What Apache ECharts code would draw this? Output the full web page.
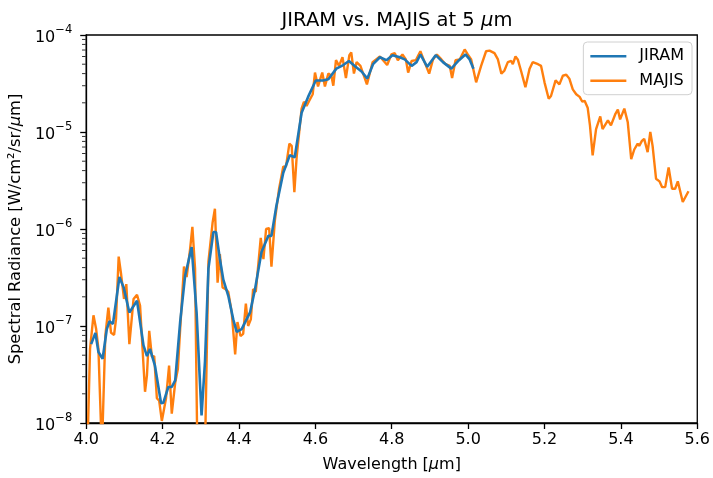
<!DOCTYPE html>
<html>
<head>
<meta charset="utf-8">
<script src="https://cdn.jsdelivr.net/npm/echarts@6/dist/echarts.min.js"></script>
<style>html,body{margin:0;padding:0;background:#fff}#c{width:713px;height:478px}</style>
</head>
<body>
<div id="c"></div>
<script>
// JIRAM spectrum: wavelength [um] and radiance [W/cm2/sr/um]
const jiramWl = [4.013,4.024,4.032,4.043,4.054,4.061,4.070,4.087,4.098,4.113,4.133,4.150,4.159,4.167,4.180,4.196,4.202,4.215,4.224,4.233,4.246,4.259,4.276,4.289,4.302,4.311,4.320,4.333,4.340,4.350,4.359,4.372,4.385,4.394,4.407,4.429,4.442,4.459,4.477,4.485,4.498,4.516,4.533,4.546,4.564,4.581,4.601,4.620,4.634,4.655,4.673,4.688,4.703,4.721,4.736,4.751,4.769,4.786,4.802,4.821,4.834,4.852,4.865,4.875,4.893,4.915,4.934,4.956,4.976,4.993,5.004,5.014];
const jiramRad = [6.5e-8,8.5e-8,5.4e-8,4.6e-8,9.3e-8,1.12e-7,1.05e-7,3.2e-7,2.5e-7,1.38e-7,1.82e-7,6.3e-8,4.9e-8,5.8e-8,3.9e-8,1.6e-8,1.62e-8,2.35e-8,2.35e-8,2.75e-8,1.1e-7,3.3e-7,6.5e-7,1.38e-7,1.2e-8,4.3e-8,3.9e-7,9.3e-7,9.3e-7,4.9e-7,3.0e-7,2.05e-7,1.17e-7,8.7e-8,9.3e-8,1.38e-7,2.4e-7,5.8e-7,8.5e-7,8.5e-7,1.74e-6,3.8e-6,5.75e-6,5.5e-6,1.58e-5,2.3e-5,3.4e-5,3.4e-5,3.5e-5,4.5e-5,4.9e-5,5.4e-5,4.8e-5,4.2e-5,3.55e-5,5.0e-5,5.9e-5,5.5e-5,6.2e-5,5.9e-5,5.6e-5,4.8e-5,5.25e-5,6.3e-5,4.7e-5,6.2e-5,5.25e-5,4.5e-5,5.5e-5,6.3e-5,5.6e-5,4.5e-5];

// MAJIS spectrum
const majisWl = [4.003,4.010,4.019,4.026,4.032,4.041,4.050,4.058,4.065,4.073,4.078,4.085,4.091,4.099,4.105,4.113,4.124,4.133,4.141,4.154,4.159,4.165,4.172,4.178,4.185,4.191,4.198,4.209,4.217,4.224,4.233,4.240,4.246,4.256,4.263,4.272,4.278,4.285,4.291,4.311,4.320,4.331,4.337,4.344,4.350,4.357,4.365,4.372,4.381,4.390,4.396,4.404,4.411,4.418,4.424,4.431,4.437,4.444,4.457,4.464,4.471,4.479,4.485,4.494,4.505,4.516,4.523,4.532,4.538,4.545,4.551,4.564,4.570,4.577,4.584,4.593,4.599,4.607,4.618,4.625,4.634,4.642,4.647,4.654,4.662,4.671,4.680,4.689,4.694,4.701,4.708,4.718,4.735,4.750,4.769,4.788,4.799,4.808,4.816,4.828,4.837,4.843,4.852,4.863,4.875,4.886,4.898,4.908,4.918,4.930,4.941,4.952,4.958,4.967,4.978,4.991,4.999,5.008,5.021,5.034,5.047,5.056,5.069,5.078,5.087,5.095,5.104,5.113,5.117,5.124,5.130,5.139,5.150,5.161,5.169,5.183,5.191,5.200,5.211,5.217,5.229,5.239,5.248,5.257,5.265,5.274,5.283,5.292,5.299,5.305,5.313,5.319,5.326,5.335,5.346,5.352,5.366,5.374,5.386,5.392,5.398,5.409,5.418,5.427,5.435,5.444,5.448,5.455,5.461,5.470,5.477,5.483,5.492,5.501,5.508,5.516,5.525,5.534,5.542,5.549,5.562,5.577];
const majisRad = [5e-9,5.8e-8,1.29e-7,9.3e-8,5.8e-8,5e-9,7.9e-8,1.55e-7,8.5e-8,8.1e-8,1.17e-7,5.2e-7,3.5e-7,1.9e-7,2.7e-7,6.5e-8,1.9e-7,2.1e-7,1.62e-7,2.1e-8,3.1e-8,8.9e-8,4.8e-8,4.9e-8,1.8e-8,1.7e-8,1.05e-8,1.8e-8,3.9e-8,1.25e-8,2.6e-8,3.6e-8,9.3e-8,4.1e-7,3.2e-7,6.2e-7,1.05e-6,3.9e-7,5e-9,5e-9,4.6e-7,1.17e-6,1.62e-6,2.8e-7,5.5e-7,2.5e-7,2.4e-7,2.25e-7,1.38e-7,5.1e-8,1.1e-7,7.9e-8,8.3e-8,1.7e-7,1.0e-7,1.17e-7,2.4e-7,2.25e-7,8.1e-7,4.9e-7,1.0e-6,1.02e-6,4.1e-7,1.23e-6,2.6e-6,4.4e-6,4.4e-6,7.6e-6,7.2e-6,2.4e-6,5.5e-6,1.74e-5,2.05e-5,1.86e-5,2.1e-5,2.45e-5,4.1e-5,2.95e-5,4.1e-5,2.95e-5,4.0e-5,3.8e-5,3.0e-5,5.5e-5,4.8e-5,5.9e-5,3.6e-5,6.2e-5,6.6e-5,4.0e-5,5.25e-5,4.8e-5,3.1e-5,5.25e-5,6.0e-5,4.9e-5,6.3e-5,6.5e-5,5.5e-5,6.3e-5,5.6e-5,4.1e-5,5.4e-5,5.5e-5,6.8e-5,5.25e-5,4.0e-5,5.6e-5,6.3e-5,5.6e-5,5.0e-5,4.8e-5,3.6e-5,5.5e-5,5.6e-5,7.1e-5,6.3e-5,5.6e-5,3.25e-5,4.8e-5,6.8e-5,6.9e-5,6.5e-5,5.6e-5,4.0e-5,4.3e-5,5.25e-5,5.4e-5,5.0e-5,6.0e-5,5.6e-5,4.2e-5,2.9e-5,4.5e-5,5.25e-5,5.0e-5,4.8e-5,3.25e-5,2.2e-5,2.35e-5,3.4e-5,3.1e-5,3.8e-5,3.9e-5,3.55e-5,2.75e-5,2.45e-5,2.3e-5,2.05e-5,2.1e-5,1.78e-5,1.17e-5,5.75e-6,1.07e-5,1.45e-5,1.07e-5,1.32e-5,1.17e-5,1.55e-5,1.7e-5,1.35e-5,1.74e-5,1.26e-5,5.25e-6,6.6e-6,7.6e-6,7.2e-6,8.1e-6,8.5e-6,6.2e-6,1.0e-5,7.2e-6,3.3e-6,3.1e-6,2.7e-6,2.7e-6,4.3e-6,2.6e-6,2.6e-6,3.1e-6,1.9e-6,2.45e-6];

// Axis ticks
const xMin = 4.0, xMax = 5.6;
const yMinorTicks = [2e-8,3e-8,4e-8,5e-8,6e-8,7e-8,8e-8,9e-8,2e-7,3e-7,4e-7,5e-7,6e-7,7e-7,8e-7,9e-7,2e-6,3e-6,4e-6,5e-6,6e-6,7e-6,8e-6,9e-6,2e-5,3e-5,4e-5,5e-5,6e-5,7e-5,8e-5,9e-5];

const FONT = 'DejaVu Sans';
const pairs = (xs, ys) => xs.map((x, i) => [x, ys[i]]);
const italicRich = size => ({i: {fontFamily: FONT, fontSize: size, fontStyle: 'italic', color: '#000'}});

const chart = echarts.init(document.getElementById('c'), null, {renderer: 'canvas'});
chart.setOption({
  animation: false,
  backgroundColor: '#fff',
  textStyle: {fontFamily: FONT, color: '#000'},
  title: {
    text: 'JIRAM vs. MAJIS at 5 {i|μ}m',
    left: 392, top: 6, textAlign: 'center',
    textStyle: {fontFamily: FONT, fontSize: 19.5, fontWeight: 'normal', color: '#000', rich: italicRich(19.5)}
  },
  grid: {left: 86, right: 15, top: 35, bottom: 54, show: true, borderColor: '#000', borderWidth: 1.3, backgroundColor: 'transparent'},
  legend: {
    data: ['JIRAM', 'MAJIS'],
    orient: 'vertical', right: 21, top: 42,
    icon: 'rect', itemWidth: 36, itemHeight: 2.6, itemGap: 6.4,
    padding: [5.3, 8, 5, 7],
    backgroundColor: 'rgba(255,255,255,0.8)', borderColor: '#d0d0d0', borderWidth: 1, borderRadius: 4,
    textStyle: {fontFamily: FONT, fontSize: 16, lineHeight: 18, color: '#000', padding: [0, 0, 0, 8]}
  },
  xAxis: {
    type: 'value', min: xMin, max: xMax, interval: 0.2,
    name: 'Wavelength [{i|μ}m]', nameLocation: 'middle', nameGap: 34,
    nameTextStyle: {fontFamily: FONT, fontSize: 16, color: '#000', rich: italicRich(16)},
    axisLine: {lineStyle: {color: '#000', width: 1.3}},
    axisTick: {show: true, length: 6, lineStyle: {color: '#000', width: 1.3}},
    axisLabel: {fontFamily: FONT, fontSize: 16, color: '#000', margin: 9,
      formatter: v => v.toFixed(1)},
    splitLine: {show: false}
  },
  yAxis: {
    type: 'log', min: 1e-8, max: 1e-4, logBase: 10, position: 'left',
    name: 'Spectral Radiance [W/cm²/sr/{i|μ}m]', nameLocation: 'middle', nameGap: 56,
    nameTextStyle: {fontFamily: FONT, fontSize: 16.3, color: '#000', rich: italicRich(16.3)},
    axisLine: {show: true, lineStyle: {color: '#000', width: 1.3}},
    axisTick: {show: true, length: 6, lineStyle: {color: '#000', width: 1.3}},
    axisLabel: {margin: 14, color: '#000',
      formatter: v => '{b|10}{s|−' + Math.round(-Math.log10(v)) + '}',
      rich: {
        b: {fontFamily: FONT, fontSize: 16, color: '#000', lineHeight: 22, verticalAlign: 'bottom'},
        s: {fontFamily: FONT, fontSize: 11.5, color: '#000', lineHeight: 12, verticalAlign: 'top'}
      }},
    splitLine: {show: false}
  },
  series: [{
    name: 'JIRAM', type: 'line', data: pairs(jiramWl, jiramRad),
    symbol: 'none', z: 4, clip: true,
    lineStyle: {color: '#1f77b4', width: 2.6}, itemStyle: {color: '#1f77b4'}
  }, {
    name: 'MAJIS', type: 'line', data: pairs(majisWl, majisRad),
    symbol: 'none', z: 3, clip: true,
    lineStyle: {color: '#ff7f0e', width: 2.4}, itemStyle: {color: '#ff7f0e'}
  }, {
    // log minor ticks on the left spine, placed through the y scale
    name: 'minorTicks', type: 'scatter', data: yMinorTicks.map(v => [xMin, v]),
    symbol: 'rect', symbolSize: [3.6, 1], symbolOffset: [-2.4, 0],
    clip: false, silent: true, z: 5,
    itemStyle: {color: '#000'}, emphasis: {disabled: true}, tooltip: {show: false}
  }]
});
</script>
</body>
</html>
